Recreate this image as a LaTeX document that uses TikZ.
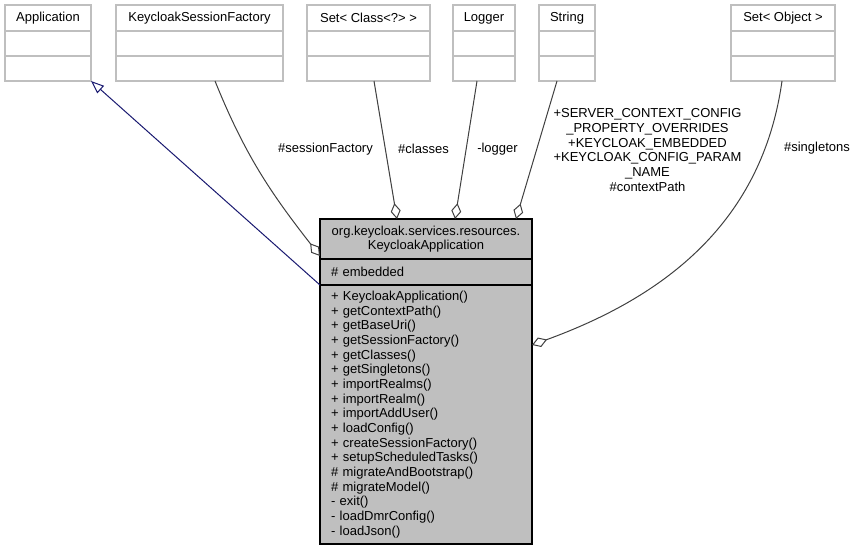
\documentclass[tikz,border=0pt]{standalone}
\usepackage{fontspec}
\setmainfont{Liberation Sans}
\usetikzlibrary{positioning,calc,arrows.meta}
\definecolor{boxgray}{RGB}{191,191,191}
\definecolor{edgegray}{RGB}{64,64,64}
\definecolor{inhblue}{RGB}{25,25,112}
\newcommand{\dxfont}{\fontsize{13}{14.67}\selectfont}

\begin{document}
\begin{tikzpicture}[
  x=1pt, y=1pt,
  cls/.style={draw=boxgray, fill=white, line width=1.1pt, minimum height=26pt,
              inner sep=0pt, outer sep=0pt, font=\dxfont},
  clsrow/.style={cls, minimum height=25pt},
  main/.style={draw=black, fill=boxgray, line width=1.2pt, minimum width=212pt,
               inner sep=0pt, outer sep=0pt, font=\dxfont},
  agg/.style={-{Diamond[open, length=16pt, width=10pt]}, edgegray, line width=1pt},
  inh/.style={-{Triangle[open, length=13pt, width=10pt]}, inhblue, line width=1pt},
  lab/.style={font=\dxfont, align=center, inner sep=0pt}
]
\useasboundingbox (0,0) rectangle (857,-551);

% Used classes (top row)
\node[cls, minimum width=86pt] (app) at (48,-18) {Application};
\node[clsrow, minimum width=86pt, below=0pt of app] (app2) {};
\node[clsrow, minimum width=86pt, below=0pt of app2] (app3) {};

\node[cls, minimum width=167pt] (ksf) at (199.5,-18) {KeycloakSessionFactory};
\node[clsrow, minimum width=167pt, below=0pt of ksf] (ksf2) {};
\node[clsrow, minimum width=167pt, below=0pt of ksf2] (ksf3) {};

\node[cls, minimum width=123pt] (setc) at (368.5,-18) {Set< Class<?> >};
\node[clsrow, minimum width=123pt, below=0pt of setc] (setc2) {};
\node[clsrow, minimum width=123pt, below=0pt of setc2] (setc3) {};

\node[cls, minimum width=62pt] (logg) at (484,-18) {Logger};
\node[clsrow, minimum width=62pt, below=0pt of logg] (logg2) {};
\node[clsrow, minimum width=62pt, below=0pt of logg2] (logg3) {};

\node[cls, minimum width=56pt] (str) at (567,-18) {String};
\node[clsrow, minimum width=56pt, below=0pt of str] (str2) {};
\node[clsrow, minimum width=56pt, below=0pt of str2] (str3) {};

\node[cls, minimum width=104pt] (seto) at (783,-18) {Set< Object >};
\node[clsrow, minimum width=104pt, below=0pt of seto] (seto2) {};
\node[clsrow, minimum width=104pt, below=0pt of seto2] (seto3) {};

% KeycloakApplication
\node[main, minimum height=40pt, align=center] (head) at (426,-239)
  {org.keycloak.services.resources.\\KeycloakApplication};
\node[main, minimum height=26pt, text width=190pt, align=left, below=0pt of head] (attr)
  {\# embedded};
\node[main, minimum height=259pt, text width=190pt, align=left, below=0pt of attr] (meth)
  {+ KeycloakApplication()\\+ getContextPath()\\+ getBaseUri()\\+ getSessionFactory()\\
   + getClasses()\\+ getSingletons()\\+ importRealms()\\+ importRealm()\\+ importAddUser()\\
   + loadConfig()\\+ createSessionFactory()\\+ setupScheduledTasks()\\\# migrateAndBootstrap()\\
   \# migrateModel()\\- exit()\\- loadDmrConfig()\\- loadJson()};

% Role labels
\node[lab] (lsf) at (325.5,-149) {\#sessionFactory};
\node[lab] (lcl) at (423.5,-149) {\#classes};
\node[lab] (llg) at (497.5,-149) {-logger};
\node[lab] (lst) at (647.5,-150) {+SERVER\_CONTEXT\_CONFIG\\\_PROPERTY\_OVERRIDES\\+KEYCLOAK\_EMBEDDED\\+KEYCLOAK\_CONFIG\_PARAM\\\_NAME\\\#contextPath};
\node[lab] (lsg) at (817,-148) {\#singletons};

% Inheritance
\draw[inh] (attr.south west) -- (app3.south east);

% Aggregations
\draw[agg] ([xshift=15.5pt]ksf3.south) to[out=-68, in=128] ([yshift=3pt]head.south west);
\draw[agg] ([xshift=5.5pt]setc3.south) -- ([xshift=-29pt]head.north);
\draw[agg] ([xshift=-7pt]logg3.south) -- ([xshift=29pt]head.north);
\draw[agg] ([xshift=-10pt]str3.south) -- ([xshift=90pt]head.north);
\draw[agg] ([xshift=-1pt]seto3.south) to[out=-98, in=20] ([yshift=-60pt]meth.north east);

\end{tikzpicture}
\end{document}
